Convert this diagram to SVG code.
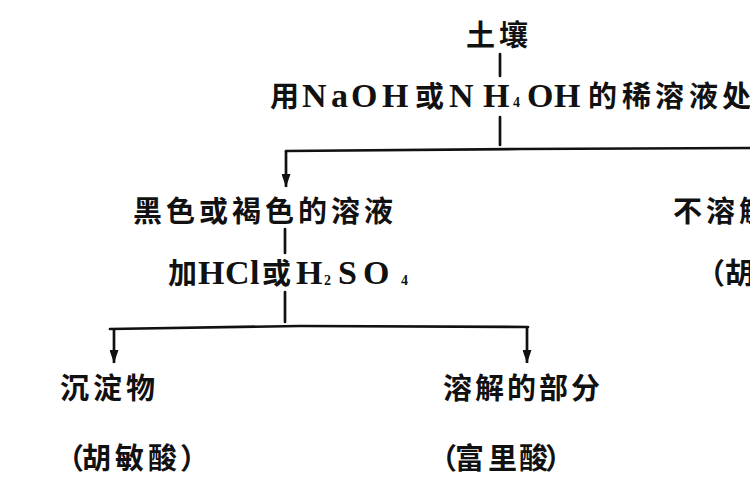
<svg xmlns="http://www.w3.org/2000/svg" width="750" height="500" viewBox="0 0 750 500">
<defs>
<marker id="arr" viewBox="0 0 10 10" refX="10" refY="5" markerWidth="13" markerHeight="9" markerUnits="userSpaceOnUse" orient="auto" preserveAspectRatio="none">
<path d="M0,0 L10,5 L0,10 z" fill="#111"/>
</marker>
<style>
.cjk{font-family:'Noto Sans CJK SC',sans-serif;font-size:29px;font-weight:700;fill:#111}
.lat{font-family:'Liberation Serif',serif;font-size:34px;font-weight:700;fill:#111}
.sub{font-family:'Liberation Serif',serif;font-size:14px;font-weight:700;fill:#111}
.ln{stroke:#111;stroke-width:2.7;fill:none;stroke-linecap:round}
.ar{stroke:#111;stroke-width:2.7;fill:none;marker-end:url(#arr)}
</style>
</defs>
<rect width="750" height="500" fill="#ffffff"/>
<g id="connectors">
<line class="ln" x1="500" y1="54" x2="500" y2="76"/>
<line class="ln" x1="500" y1="117" x2="500" y2="145"/>
<polyline class="ln" points="286,151 520,149 750,148"/>
<line class="ar" x1="286" y1="151" x2="286" y2="187"/>
<line class="ln" x1="285" y1="229" x2="285" y2="253"/>
<line class="ln" x1="285" y1="292" x2="285" y2="322"/>
<polyline class="ln" points="110,329 300,326 528,327"/>
<line class="ar" x1="114" y1="329" x2="114" y2="363"/>
<line class="ar" x1="527" y1="327" x2="527" y2="363"/>
</g>
<g id="soil"><text class="cjk" x="466 499" y="46">土壤</text></g>
<g id="treat"><text y="107"><tspan class="cjk" x="270">用</tspan><tspan class="lat" x="302 331 351 382">NaOH</tspan><tspan class="cjk" x="415">或</tspan><tspan class="lat" x="449 483">NH</tspan><tspan class="sub" x="513" y="107">4</tspan><tspan class="lat" x="527 554" y="107">OH</tspan><tspan class="cjk" x="588 622 655 689 722">的稀溶液处</tspan></text></g>
<g id="solution"><text class="cjk" x="133 166 199 232 265 298 331 364" y="222">黑色或褐色的溶液</text></g>
<g id="acid"><text y="284"><tspan class="cjk" x="168">加</tspan><tspan class="lat" x="198 225 250">HCl</tspan><tspan class="cjk" x="262">或</tspan><tspan class="lat" x="296">H</tspan><tspan class="sub" x="324" y="285">2</tspan><tspan class="lat" x="338 363" y="284">SO</tspan><tspan class="sub" x="401" y="285">4</tspan></text></g>
<g id="insoluble"><text class="cjk" x="673 706 739" y="222">不溶解</text><text class="cjk" x="696 725" y="284">（胡</text></g>
<g id="precipitate"><text class="cjk" x="60 93 126" y="399">沉淀物</text><text class="cjk" x="55 82 115 148 180" y="469">（胡敏酸）</text></g>
<g id="dissolved"><text class="cjk" x="443 475 507 539 571" y="399">溶解的部分</text><text class="cjk" x="428 455 488 519 545" y="469">（富里酸）</text></g>
</svg>
